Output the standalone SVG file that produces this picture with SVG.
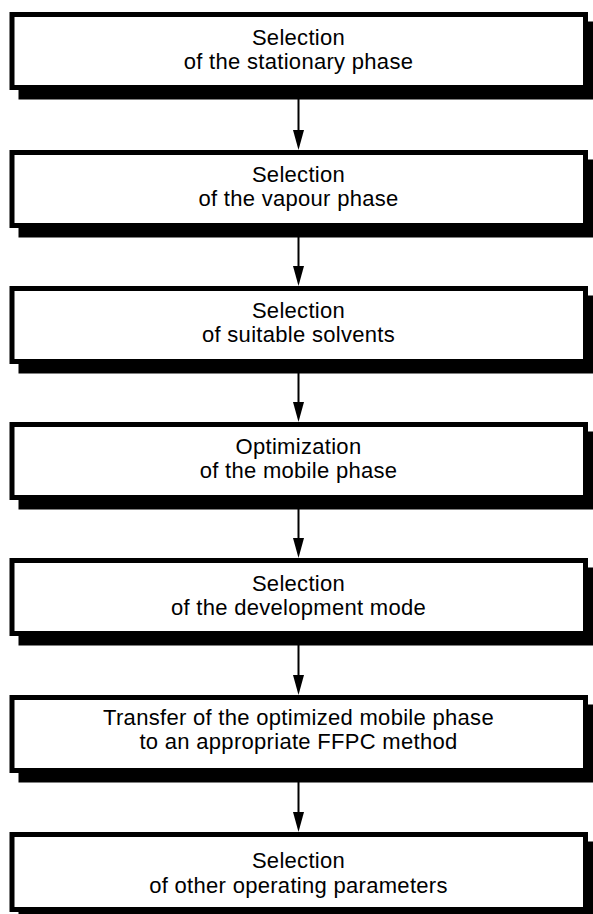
<svg xmlns="http://www.w3.org/2000/svg" width="593" height="914" viewBox="0 0 593 914">
  <style>
    .shadow { fill: #000; }
    .box { fill: #fff; stroke: #000; stroke-width: 5; }
    .label { font-family: "Liberation Sans", Arial, sans-serif; font-size: 22px; letter-spacing: 0.3px; fill: #000; text-anchor: middle; }
    .wire { stroke: #000; stroke-width: 2; fill: none; }
    .head { fill: #000; }
  </style>
  <rect width="593" height="914" fill="#fff"/>

  <g id="connectors">
    <line class="wire" x1="298.5" y1="90" x2="298.5" y2="132"/>
    <polygon class="head" points="293,130 304,130 298.5,150"/>
    <line class="wire" x1="298.5" y1="228" x2="298.5" y2="268"/>
    <polygon class="head" points="293,266 304,266 298.5,286"/>
    <line class="wire" x1="298.5" y1="364" x2="298.5" y2="404"/>
    <polygon class="head" points="293,402 304,402 298.5,422"/>
    <line class="wire" x1="298.5" y1="500" x2="298.5" y2="540"/>
    <polygon class="head" points="293,538 304,538 298.5,558"/>
    <line class="wire" x1="298.5" y1="636" x2="298.5" y2="677"/>
    <polygon class="head" points="293,675 304,675 298.5,695"/>
    <line class="wire" x1="298.5" y1="773" x2="298.5" y2="814"/>
    <polygon class="head" points="293,812 304,812 298.5,832"/>
  </g>

  <g id="stationary-phase">
    <rect class="shadow" x="18.5" y="21.5" width="578.5" height="78"/>
    <rect class="box" x="12" y="14.5" width="573.5" height="73"/>
    <text class="label" x="298.5" y="45">Selection</text>
    <text class="label" x="298.5" y="69">of the stationary phase</text>
  </g>

  <g id="vapour-phase">
    <rect class="shadow" x="18.5" y="159.5" width="578.5" height="78"/>
    <rect class="box" x="12" y="152.5" width="573.5" height="73"/>
    <text class="label" x="298.5" y="182">Selection</text>
    <text class="label" x="298.5" y="206">of the vapour phase</text>
  </g>

  <g id="solvents">
    <rect class="shadow" x="18.5" y="295.5" width="578.5" height="78"/>
    <rect class="box" x="12" y="288.5" width="573.5" height="73"/>
    <text class="label" x="298.5" y="318">Selection</text>
    <text class="label" x="298.5" y="342">of suitable solvents</text>
  </g>

  <g id="mobile-phase">
    <rect class="shadow" x="18.5" y="431.5" width="578.5" height="78"/>
    <rect class="box" x="12" y="424.5" width="573.5" height="73"/>
    <text class="label" x="298.5" y="454">Optimization</text>
    <text class="label" x="298.5" y="478">of the mobile phase</text>
  </g>

  <g id="development-mode">
    <rect class="shadow" x="18.5" y="567.5" width="578.5" height="78"/>
    <rect class="box" x="12" y="560.5" width="573.5" height="73"/>
    <text class="label" x="298.5" y="591">Selection</text>
    <text class="label" x="298.5" y="615">of the development mode</text>
  </g>

  <g id="ffpc-transfer">
    <rect class="shadow" x="18.5" y="704.5" width="578.5" height="78"/>
    <rect class="box" x="12" y="697.5" width="573.5" height="73"/>
    <text class="label" x="298.5" y="725">Transfer of the optimized mobile phase</text>
    <text class="label" x="298.5" y="749">to an appropriate FFPC method</text>
  </g>

  <g id="operating-parameters">
    <rect class="shadow" x="18.5" y="841.5" width="578.5" height="80"/>
    <rect class="box" x="12" y="834.5" width="573.5" height="75"/>
    <text class="label" x="298.5" y="868">Selection</text>
    <text class="label" x="298.5" y="893">of other operating parameters</text>
  </g>
</svg>
